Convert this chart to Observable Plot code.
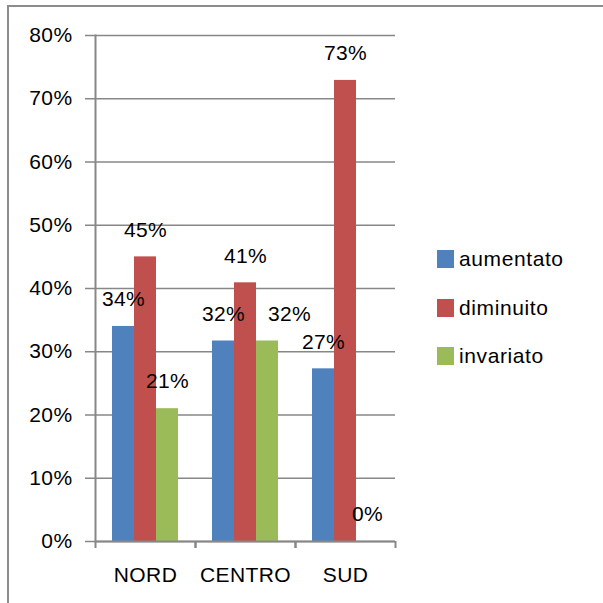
<!DOCTYPE html>
<html>
<head>
<meta charset="utf-8">
<script src="https://cdn.jsdelivr.net/npm/d3@7"></script>
<script src="https://cdn.jsdelivr.net/npm/@observablehq/plot@0.6"></script>
<style>
  html, body { margin: 0; padding: 0; background: #fff; overflow: hidden; }
  #wrap { position: relative; width: 603px; height: 603px; overflow: hidden; font-family: "Liberation Sans", Arial, sans-serif; }
  #border { position: absolute; left: 7px; top: 5px; width: 800px; height: 800px;
            border-top: 2px solid #8c8c8c; border-left: 2px solid #8c8c8c; }
  #chart { position: absolute; left: 0; top: 0; }
  #legend { position: absolute; left: 437px; top: 246px; }
  .row { display: flex; align-items: center; height: 26px; margin-bottom: 22.5px; font-size: 21px; letter-spacing: 0.6px; color: #000; }
  .sw { width: 17px; height: 18px; margin-right: 5px; flex: none; }
</style>
</head>
<body>
<div id="wrap">
  <div id="border"></div>
  <div id="chart"></div>
  <div id="legend"></div>
</div>
<script>
const categories = ["NORD", "CENTRO", "SUD"];
const seriesNames = ["aumentato", "diminuito", "invariato"];
const aumentato = [0.34, 0.317, 0.273];
const diminuito = [0.45, 0.409, 0.729];
const invariato = [0.21, 0.317, 0.0];
const seriesColors = ["#4F81BD", "#C0504D", "#9BBB59"];
const yTicks = [0, 0.1, 0.2, 0.3, 0.4, 0.5, 0.6, 0.7, 0.8];

const seriesValues = [aumentato, diminuito, invariato];
const data = [];
categories.forEach((c, i) => {
  seriesNames.forEach((s, j) => {
    data.push({region: c, series: s, value: seriesValues[j][i]});
  });
});

const gridColor = "#878787";
const pct = d3.format(".0%");
// the CENTRO / invariato label sits nudged right in the original, to avoid overlap
const isNudged = d => d.region === "CENTRO" && d.series === "invariato";

const chart = Plot.plot({
  width: 603,
  height: 603,
  marginLeft: 95,
  marginRight: 208,
  marginTop: 35,
  marginBottom: 62,
  style: {fontFamily: "'Liberation Sans', Arial, sans-serif", fontSize: "21px", color: "#000", background: "transparent", letterSpacing: "0.4px"},
  fx: {domain: categories, padding: 0},
  x: {domain: seriesNames, paddingInner: 0, paddingOuter: 0.72, axis: null},
  y: {domain: [0, 0.8]},
  color: {domain: seriesNames, range: seriesColors},
  marks: [
    Plot.gridY(yTicks, {stroke: gridColor, strokeOpacity: 1, strokeWidth: 1.5}),
    Plot.axisY(yTicks, {tickSize: 10, tickPadding: 13, tickFormat: pct, stroke: gridColor, strokeOpacity: 1, strokeWidth: 1.5, fill: "#000", label: null, style: "letter-spacing:1.2px"}),
    Plot.barY(data, {fx: "region", x: "series", y: "value", fill: "series"}),
    Plot.ruleY([0], {stroke: gridColor, strokeWidth: 2}),
    Plot.frame({anchor: "left", facetAnchor: "left", stroke: gridColor, strokeWidth: 2}),
    Plot.axisFx({anchor: "bottom", tickSize: 7, dx: -50, tickFormat: () => "", stroke: gridColor, strokeWidth: 2, strokeOpacity: 1, label: null}),
    Plot.axisFx({anchor: "bottom", tickSize: 7, dx: 50, tickFormat: () => "", stroke: gridColor, strokeWidth: 2, strokeOpacity: 1, label: null}),
    Plot.axisFx({anchor: "bottom", tickSize: 0, tickPadding: 26, fill: "#000", label: null}),
    Plot.text(data.filter(d => !isNudged(d)), {fx: "region", x: "series", y: "value", text: d => pct(d.value), dy: -27, fill: "#000", fontSize: 21, lineAnchor: "middle", style: "letter-spacing:1px"}),
    Plot.text(data.filter(isNudged), {fx: "region", x: "series", y: "value", text: d => pct(d.value), dy: -27, dx: 22, fill: "#000", fontSize: 21, lineAnchor: "middle", style: "letter-spacing:1px"})
  ]
});
document.getElementById("chart").appendChild(chart);

const legend = document.getElementById("legend");
seriesNames.forEach((s, i) => {
  const row = document.createElement("div");
  row.className = "row";
  const sw = document.createElement("div");
  sw.className = "sw";
  sw.style.background = seriesColors[i];
  const t = document.createElement("span");
  t.textContent = s;
  row.appendChild(sw);
  row.appendChild(t);
  legend.appendChild(row);
});
</script>
</body>
</html>
